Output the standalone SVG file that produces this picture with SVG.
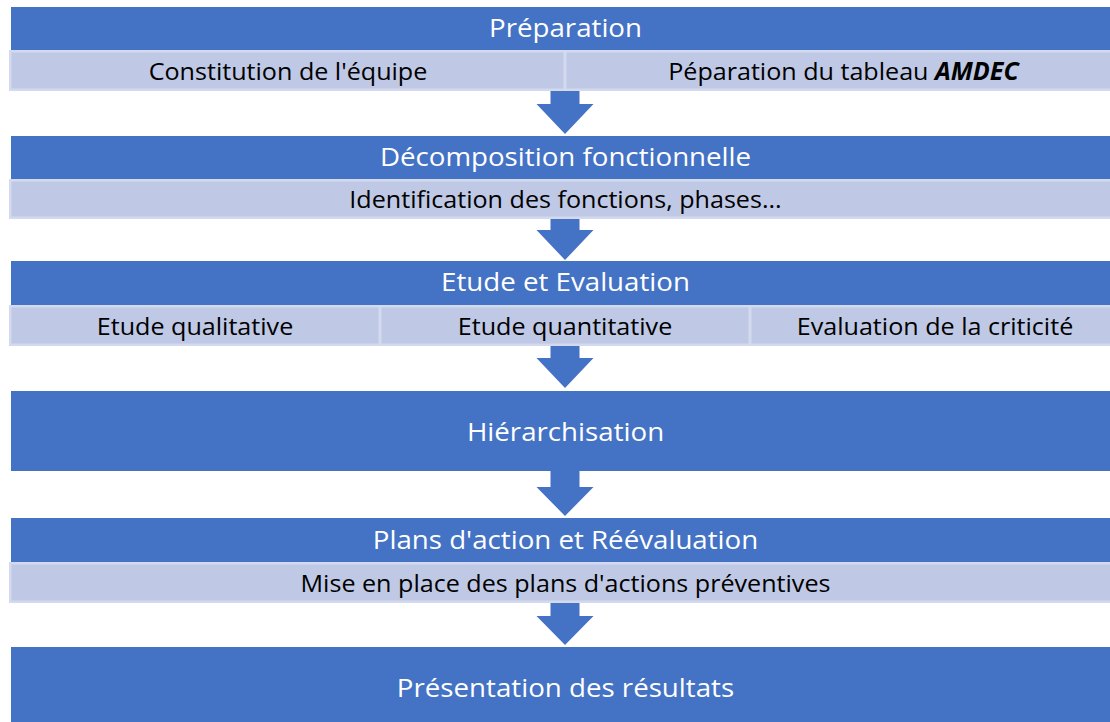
<svg xmlns="http://www.w3.org/2000/svg" width="1110" height="722" viewBox="0 0 1110 722">
<style>
.hd{fill:#4472C4;}
.cell{fill:#BFC9E5;stroke:#D3D9EE;stroke-width:2.5;}
.arr{fill:#4472C4;}
text{font-family:"Open Sans","Noto Sans","Liberation Sans",sans-serif;text-anchor:middle;}
.ht{fill:#FFFFFF;font-size:26px;}
.st{fill:#000000;font-size:24.5px;}
.bi{font-weight:bold;font-style:italic;}
</style>
<rect width="1110" height="722" fill="#FFFFFF"/>
<g id="connectors">
<polygon class="arr" points="550.5,90 579.5,90 579.5,104 593.5,104 565,134 536.5,104 550.5,104"/>
<polygon class="arr" points="550.5,219 579.5,219 579.5,230 593.5,230 565,260 536.5,230 550.5,230"/>
<polygon class="arr" points="550.5,346 579.5,346 579.5,358 593.5,358 565,388 536.5,358 550.5,358"/>
<polygon class="arr" points="550.5,471 579.5,471 579.5,487 593.5,487 565,516 536.5,487 550.5,487"/>
<polygon class="arr" points="550.5,603 579.5,603 579.5,616 593.5,616 565,645 536.5,616 550.5,616"/>
</g>
<g id="preparation">
<rect class="hd" x="11" y="7" width="1111" height="43"/>
<text class="ht" transform="translate(565.5,37) scale(1.065,1)">Préparation</text>
</g>
<g id="constitution">
<rect class="cell" x="10.25" y="51.25" width="554.5" height="38.5"/>
<text class="st" transform="translate(288,79.5) scale(1.025,1)">Constitution de l'équipe</text>
</g>
<g id="tableau">
<rect class="cell" x="565.25" y="51.25" width="556.5" height="38.5"/>
<text class="st" transform="translate(843.5,79.5) scale(1.025,1)">Péparation du tableau <tspan class="bi">AMDEC</tspan></text>
</g>
<g id="decomposition">
<rect class="hd" x="11" y="136" width="1111" height="43"/>
<text class="ht" transform="translate(565.5,166) scale(1.065,1)">Décomposition fonctionnelle</text>
</g>
<g id="identification">
<rect class="cell" x="10.25" y="180.25" width="1111.5" height="37.5"/>
<text class="st" transform="translate(565.5,207.5) scale(1.025,1)">Identification des fonctions, phases...</text>
</g>
<g id="etude">
<rect class="hd" x="11" y="261" width="1111" height="44"/>
<text class="ht" transform="translate(565.5,290.5) scale(1.065,1)">Etude et Evaluation</text>
</g>
<g id="qualitative">
<rect class="cell" x="10.25" y="306.25" width="369.5" height="38.5"/>
<text class="st" transform="translate(195,334.5) scale(1.025,1)">Etude qualitative</text>
</g>
<g id="quantitative">
<rect class="cell" x="380.25" y="306.25" width="369.5" height="38.5"/>
<text class="st" transform="translate(565,334.5) scale(1.025,1)">Etude quantitative</text>
</g>
<g id="criticite">
<rect class="cell" x="750.25" y="306.25" width="371.5" height="38.5"/>
<text class="st" transform="translate(935,334.5) scale(1.025,1)">Evaluation de la criticité</text>
</g>
<g id="hierarchisation">
<rect class="hd" x="11" y="391" width="1111" height="80"/>
<text class="ht" transform="translate(565.5,441) scale(1.065,1)">Hiérarchisation</text>
</g>
<g id="plans">
<rect class="hd" x="11" y="518" width="1111" height="44"/>
<text class="ht" transform="translate(565.5,549) scale(1.065,1)">Plans d'action et Réévaluation</text>
</g>
<g id="mise-en-place">
<rect class="cell" x="10.25" y="563.25" width="1111.5" height="38.5"/>
<text class="st" transform="translate(565.5,591.5) scale(1.025,1)">Mise en place des plans d'actions préventives</text>
</g>
<g id="presentation">
<rect class="hd" x="11" y="647" width="1111" height="80"/>
<text class="ht" transform="translate(565.5,697) scale(1.065,1)">Présentation des résultats</text>
</g>
</svg>
